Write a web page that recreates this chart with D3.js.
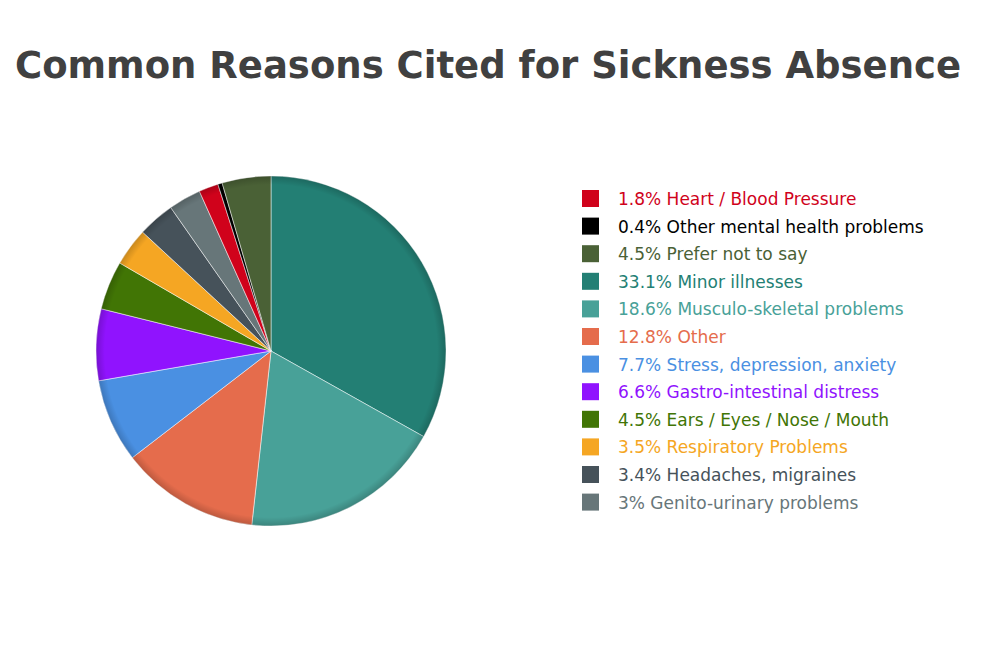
<!DOCTYPE html><html><head><meta charset="utf-8"><script src="https://d3js.org/d3.v7.min.js"></script>
<style>body{margin:0;background:#fff}</style></head><body><svg id="c" width="1000" height="668"></svg>
<script>
const labels=["Minor illnesses","Musculo-skeletal problems","Other","Stress, depression, anxiety","Gastro-intestinal distress","Ears / Eyes / Nose / Mouth","Respiratory Problems","Headaches, migraines","Genito-urinary problems","Heart / Blood Pressure","Other mental health problems","Prefer not to say"];
const values=[33.1,18.6,12.8,7.7,6.6,4.5,3.5,3.4,3,1.8,0.4,4.5];
const colors=["#237f74","#48a198","#e56c4c","#4a90e2","#9013fe","#417505","#f5a623","#46525a","#677679","#d0021b","#000000","#4a6136"];
const legendOrder=[9,10,11,0,1,2,3,4,5,6,7,8];
const svg=d3.select("#c");
svg.append("text").attr("x",488).attr("y",78).attr("text-anchor","middle").attr("font-family","DejaVu Sans").attr("font-weight","bold").attr("font-size",37).attr("fill","#404040").text("Common Reasons Cited for Sickness Absence");
const g=svg.append("g").attr("transform","translate(271,351)");
const pie=d3.pie().sort(null).value(d=>d)(values);
const arc=d3.arc().innerRadius(0).outerRadius(175);
g.selectAll("path").data(pie).join("path").attr("d",arc).attr("fill",(d,i)=>colors[i]).attr("stroke","#fff").attr("stroke-width",0.5);
const defs=svg.append("defs");
const rg=defs.append("radialGradient").attr("id","rg");
rg.append("stop").attr("offset","0.95").attr("stop-color","#000").attr("stop-opacity",0);
rg.append("stop").attr("offset","1").attr("stop-color","#000").attr("stop-opacity",0.18);
g.append("circle").attr("r",175).attr("fill","url(#rg)");
const lg=svg.append("g");
const y=d3.scaleLinear().domain([0,1]).range([199,226.6]);
legendOrder.forEach((k,j)=>{
 lg.append("rect").attr("x",582).attr("y",y(j)-9).attr("width",17).attr("height",17).attr("fill",colors[k]);
 lg.append("text").attr("x",618).attr("y",y(j)+6).attr("font-family","DejaVu Sans").attr("font-size",17).attr("fill",colors[k]).text(values[k]+"% "+labels[k]);
});
</script></body></html>
